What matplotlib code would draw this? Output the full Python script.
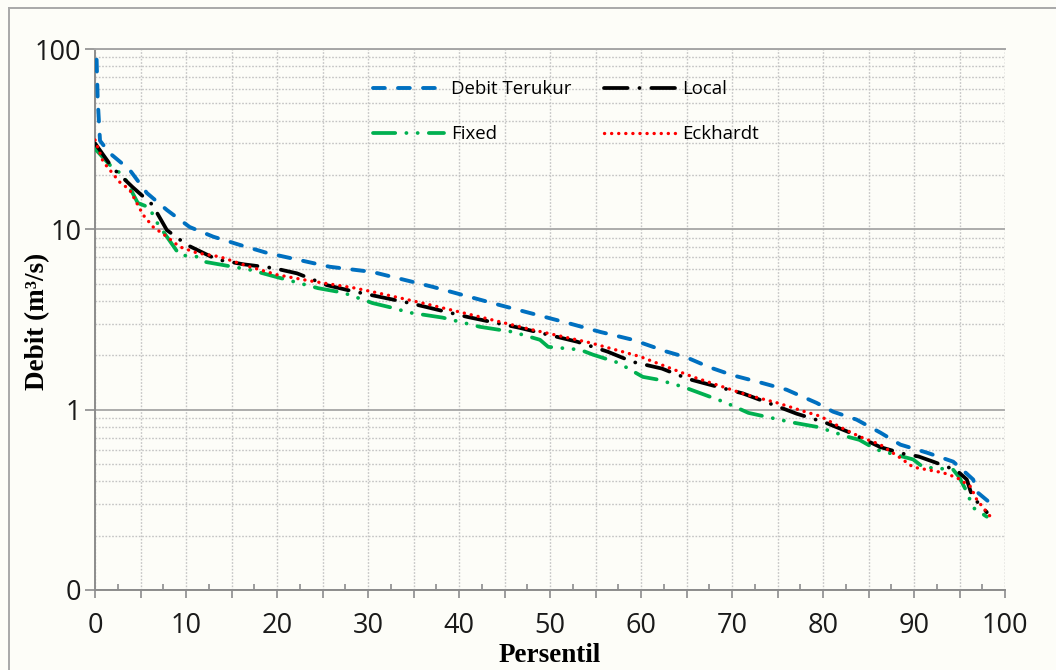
import matplotlib
matplotlib.use('Agg')
import matplotlib.pyplot as plt
from matplotlib.ticker import MultipleLocator, FixedLocator, FuncFormatter, NullFormatter
from matplotlib.lines import Line2D

plt.rcParams['lines.scale_dashes'] = False

# ── Data ───────────────────────────────────────────────────────────────────
TERUKUR_X = [0.1, 0.3, 0.55, 1.6, 3.8, 5.7, 7.9, 10.4, 13, 15.9, 18.9, 22.2, 25.8, 30.5,
             37.1, 44.5, 51.9, 55.5, 59.1, 62.8, 65, 67.5, 70.1, 73, 76, 79.3, 81.1, 83.7,
             86.3, 88.5, 91.4, 94.3, 95, 96.5, 97, 98.5]
TERUKUR_Y = [120, 52, 31, 26.5, 21.4, 15.9, 12.8, 10.3, 9.1, 8.2, 7.4, 6.8, 6.2, 5.8,
             4.8, 3.8, 3.03, 2.7, 2.44, 2.1, 1.95, 1.72, 1.55, 1.42, 1.29, 1.09, 0.975, 0.88,
             0.746, 0.64, 0.578, 0.515, 0.48, 0.41, 0.347, 0.30]

LOCAL_X = [0, 1.9, 4.1, 6.3, 7.9, 10.1, 13.4, 16.3, 19.6, 22.2, 25.5, 28.2, 34.6, 40.9,
           46.7, 53, 56.3, 59.1, 62.3, 65.2, 68.4, 71.2, 74.2, 77.1, 80.2, 83, 86.3,
           88.8, 90.5, 92.1, 94.7, 95.8, 96.4, 98]
LOCAL_Y = [30, 22, 17.2, 13.7, 9.9, 8.2, 6.8, 6.4, 6.1, 5.7, 4.9, 4.55, 3.9, 3.27,
           2.84, 2.38, 2.1, 1.84, 1.69, 1.48, 1.34, 1.23, 1.08, 0.95, 0.85, 0.745, 0.62,
           0.57, 0.55, 0.515, 0.46, 0.41, 0.33, 0.27]

FIXED_X = [0, 1.9, 3.1, 4.7, 6, 6.6, 9.3, 11.2, 12.1, 17, 19.6, 24.5, 27.3, 30.5, 32.4,
           34.6, 38.2, 42.3, 45.9, 48.9, 49.8, 53.3, 54.7, 57.5, 60.2, 61.8, 64.6, 69.2,
           71.8, 76.6, 79.5, 82.6, 84, 85.9, 88.1, 89.9, 91, 94.3, 95, 95.8, 96.5, 98]
FIXED_Y = [28, 22, 20, 14, 13.2, 11.3, 7.2, 7.05, 6.6, 5.97, 5.5, 4.72, 4.45, 3.9, 3.7,
           3.45, 3.24, 2.88, 2.7, 2.44, 2.23, 2.15, 2.02, 1.82, 1.52, 1.47, 1.34, 1.1,
           0.96, 0.85, 0.8, 0.71, 0.68, 0.6, 0.56, 0.53, 0.48, 0.465, 0.42, 0.35, 0.286, 0.255]

ECK_X = [0, 0.9, 2.7, 3.8, 5.3, 6.4, 7.9, 9.3, 11.2, 13.7, 17, 20, 23.4, 28.4, 31, 36,
         42.3, 48.1, 54.4, 59.9, 65.7, 71.6, 75, 78, 79.7, 81.9, 84, 86.3, 88.5, 89.9,
         91.4, 93.2, 94.7, 96.2, 96.9, 98.4]
ECK_Y = [31.3, 23.7, 18.3, 16.6, 12, 10.3, 9.1, 8.0, 7.4, 7.05, 6.2, 5.6, 5.2, 4.74, 4.45,
         3.9, 3.27, 2.77, 2.35, 1.97, 1.52, 1.21, 1.09, 0.975, 0.92, 0.8, 0.71, 0.64, 0.54,
         0.48, 0.465, 0.447, 0.42, 0.375, 0.317, 0.255]

LABELS = ["Debit Terukur", "Local", "Fixed", "Eckhardt"]
Y_TICKS = [0.1, 1, 10, 100]
Y_TICK_LABELS = ["0", "1", "10", "100"]

# ── Style ──────────────────────────────────────────────────────────────────
BG = "#FDFDF8"
BLUE = "#0070C0"
GREEN = "#00B050"
RED = "#FF0000"
BLACK = "#000000"
AXIS = "#8C8C8C"
GRID = "#A6A6A6"
MINOR = "#C4C4C4"
TICK_FONT = "Open Sans"

W, H = 1056, 670
fig = plt.figure(figsize=(W / 100, H / 100), dpi=100)
fig.patch.set_facecolor(BG)
ax = fig.add_axes([95 / W, 1 - 590 / H, 910 / W, 541 / H])
ax.set_facecolor(BG)

# outer frame (top + left edges visible)
fig.add_artist(Line2D([9 / W, 1.0], [1 - 8 / H] * 2, color="#A8A8A8", lw=1.4,
                      transform=fig.transFigure))
fig.add_artist(Line2D([9 / W] * 2, [0, 1 - 8 / H], color="#A8A8A8", lw=1.4,
                      transform=fig.transFigure))

ax.set_yscale('log')
ax.set_xlim(0, 100)
ax.set_ylim(0.1, 100)

# lines
ax.plot(TERUKUR_X, TERUKUR_Y, color=BLUE, lw=2.8, dashes=(8.5, 9.5),
        dash_capstyle='round', label=LABELS[0], zorder=4)
ax.plot(LOCAL_X, LOCAL_Y, color=BLACK, lw=2.7, dashes=(17, 8.5, 0.1, 8.5),
        dash_capstyle='round', label=LABELS[1], zorder=5)
ax.plot(FIXED_X, FIXED_Y, color=GREEN, lw=2.7, dashes=(16, 8, 0.1, 8, 0.1, 8),
        dash_capstyle='round', label=LABELS[2], zorder=4.5)
ax.plot(ECK_X, ECK_Y, color=RED, lw=2.4, dashes=(0.1, 5),
        dash_capstyle='round', label=LABELS[3], zorder=6)

# ticks
ax.xaxis.set_major_locator(MultipleLocator(5))
ax.xaxis.set_minor_locator(MultipleLocator(2.5))
ax.xaxis.set_major_formatter(FuncFormatter(lambda v, p: f"{int(v)}" if int(round(v)) % 10 == 0 else ""))
ax.tick_params(axis='x', which='major', direction='out', length=6, width=1.2, color=AXIS,
               labelsize=19.5, pad=10)
ax.tick_params(axis='x', which='minor', direction='in', length=4, width=1.2, color=AXIS)

ax.yaxis.set_major_locator(FixedLocator(Y_TICKS))
ax.yaxis.set_major_formatter(FuncFormatter(lambda v, p: Y_TICK_LABELS[Y_TICKS.index(v)] if v in Y_TICKS else ""))
ax.yaxis.set_minor_formatter(NullFormatter())
ax.tick_params(axis='y', which='major', direction='out', length=7, width=1.2, color=AXIS,
               labelsize=19.5, pad=3)
ax.tick_params(axis='y', which='minor', length=0)
for lab in ax.get_xticklabels() + ax.get_yticklabels():
    lab.set_fontfamily(TICK_FONT)
    lab.set_color("#1A1A1A")

# grid
ax.grid(True, axis='x', which='major', color=MINOR, lw=1.0, linestyle=(0, (1.2, 1.2)))
ax.grid(True, axis='y', which='major', color=GRID, lw=1.3, linestyle='-')
ax.grid(True, axis='y', which='minor', color=MINOR, lw=1.0, linestyle=(0, (1.2, 1.2)))
ax.axvline(100, color=MINOR, lw=1.0, linestyle=(0, (1.2, 1.2)), zorder=1)
ax.set_axisbelow(True)

for side in ['left', 'bottom', 'top']:
    ax.spines[side].set_color(AXIS)
    ax.spines[side].set_linewidth(1.4)
ax.spines['top'].set_color(GRID)
ax.spines['right'].set_visible(False)

# axis labels
fig.text(550 / W, 1 - 655 / H, "Persentil", fontfamily="Liberation Serif",
         fontweight='bold', fontsize=19.5, ha='center', va='center')
fig.text(38 / W, 1 - 321 / H, "Debit (m³/s)", fontfamily="Liberation Serif",
         fontweight='bold', fontsize=19.5, ha='center', va='center', rotation=90)

# legend (row-major order: Terukur, Local / Fixed, Eckhardt)
h, l = ax.get_legend_handles_labels()
order = [0, 2, 1, 3]
leg = ax.legend([h[i] for i in order], [l[i] for i in order], ncol=2, frameon=False,
                loc='upper left', bbox_to_anchor=(0.3055, 0.942), borderpad=0,
                borderaxespad=0, handlelength=3.8, handletextpad=0.4,
                columnspacing=1.75, labelspacing=1.45,
                prop={'family': TICK_FONT, 'size': 13.4})

fig.savefig("out.png", dpi=100, facecolor=BG)
